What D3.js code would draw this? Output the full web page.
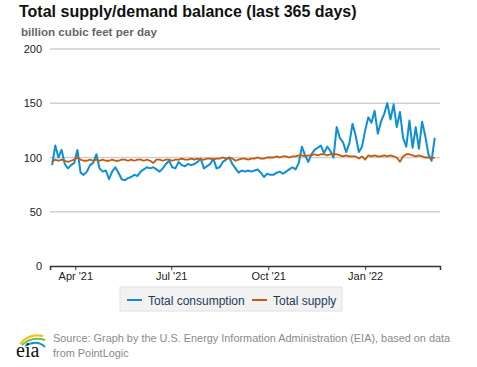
<!DOCTYPE html>
<html>
<head>
<meta charset="utf-8">
<script src="https://cdn.jsdelivr.net/npm/d3@7"></script>
<style>
  body { margin: 0; background: #fff; }
  svg { display: block; font-family: "Liberation Sans", Arial, sans-serif; }
</style>
</head>
<body>
<div id="container"></div>
<script>
// data: one sample every 3 days, starting 10 Mar 2021
const startDate = new Date(2021, 2, 10);
const stepDays = 3;

const consumption = [
  93, 111, 100, 107, 94, 90, 93, 95, 107, 86,
  84, 87, 93, 95, 103, 90, 87, 88, 80, 87,
  91, 86, 80, 79, 81, 82, 84, 83, 87, 89,
  91, 90, 91, 89, 87, 90, 94, 97, 91, 90,
  96, 93, 92, 94, 93, 94, 96, 99, 90, 92,
  94, 99, 90, 91, 96, 98, 100, 94, 90, 86,
  88, 87, 88, 87, 88, 89, 86, 82, 85, 84,
  84, 86, 87, 85, 87, 89, 91, 89, 95, 110,
  102, 96, 103, 107, 109, 111, 104, 110, 106, 100,
  128, 118, 114, 105, 113, 131, 120, 105, 110, 125,
  137, 132, 143, 122, 133, 140, 150, 135, 149, 128,
  142, 118, 110, 134, 109, 128, 108, 133, 120, 103,
  97, 118
];

const supply = [
  96, 98, 97, 98, 97, 96, 97, 98, 100, 98,
  97, 97, 98, 97, 98, 97, 98, 97, 97, 98,
  97, 97, 98, 98, 97, 98, 97, 98, 98, 97,
  98, 97, 95, 98, 98, 97, 98, 98, 97, 98,
  98, 99, 98, 98, 99, 98, 99, 98, 98, 99,
  99, 98, 99, 99, 100, 99, 100, 99, 97, 98,
  99, 99, 98, 99, 99, 100, 99, 99, 100, 100,
  100, 101, 100, 101, 101, 100, 101, 101, 102, 102,
  101, 102, 102, 103, 102, 103, 103, 102, 103, 103,
  103, 102, 101, 102, 101, 101, 101, 99, 101, 98,
  102, 101, 102, 101, 101, 102, 101, 102, 101, 100,
  96, 101, 103, 103, 102, 101, 102, 101, 100, 100,
  99, 100
];

const yTicks = [0, 50, 100, 150, 200];
const xTicks = [new Date(2021, 3, 1), new Date(2021, 6, 1), new Date(2021, 9, 1), new Date(2022, 0, 1)];
const seriesNames = ['Total consumption', 'Total supply'];
const seriesColors = ['#0b8fd6', '#c25a10'];

const W = 477, H = 367;
const margin = { left: 50, right: 37, top: 49, bottom: 101 };

const svg = d3.select('#container').append('svg')
  .attr('width', W).attr('height', H);

svg.append('rect').attr('width', W).attr('height', H).attr('fill', '#fff');

// titles
svg.append('text')
  .attr('x', 19).attr('y', 17)
  .attr('font-size', 16).attr('font-weight', 'bold').attr('fill', '#111')
  .text('Total supply/demand balance (last 365 days)');

svg.append('text')
  .attr('x', 21).attr('y', 36)
  .attr('font-size', 11.6).attr('font-weight', 'bold').attr('fill', '#666')
  .text('billion cubic feet per day');

const x = d3.scaleTime()
  .domain([new Date(2021, 2, 8), new Date(2022, 2, 13)])
  .range([margin.left, W - margin.right]);

const y = d3.scaleLinear()
  .domain([0, 200])
  .range([H - margin.bottom, margin.top]);

// gridlines
svg.append('g')
  .selectAll('line')
  .data(yTicks.filter(d => d > 0))
  .enter()
  .append('line')
  .attr('x1', margin.left).attr('x2', W - margin.right)
  .attr('y1', d => y(d)).attr('y2', d => y(d))
  .attr('stroke', '#cfcfcf').attr('stroke-width', 1.5);

// y labels
const yAxis = svg.append('g')
  .attr('transform', `translate(${margin.left - 8},0)`)
  .call(d3.axisLeft(y).tickValues(yTicks).tickSize(0).tickPadding(0));
yAxis.select('.domain').remove();
yAxis.selectAll('text').attr('font-size', 11).attr('fill', '#222').attr('font-family', null);

// x axis
const xAxis = svg.append('g')
  .attr('transform', `translate(0,${y(0)})`)
  .call(d3.axisBottom(x).tickValues(xTicks).tickSize(4).tickPadding(2).tickFormat(d3.timeFormat("%b '%y")));
xAxis.select('.domain').attr('stroke', '#333').attr('stroke-width', 1.5);
xAxis.selectAll('.tick line').attr('stroke', '#333');
xAxis.selectAll('text').attr('font-size', 11).attr('fill', '#222').attr('font-family', null);

const dateAt = i => d3.timeDay.offset(startDate, i * stepDays);

const line = d3.line()
  .x((d, i) => x(dateAt(i)))
  .y(d => y(d));

svg.append('path')
  .datum(consumption)
  .attr('fill', 'none')
  .attr('stroke', seriesColors[0])
  .attr('stroke-width', 2)
  .attr('stroke-linejoin', 'round')
  .attr('d', line);

svg.append('path')
  .datum(supply)
  .attr('fill', 'none')
  .attr('stroke', seriesColors[1])
  .attr('stroke-width', 1.8)
  .attr('stroke-linejoin', 'round')
  .attr('d', line);

// legend
const legend = svg.append('g');
legend.append('rect')
  .attr('x', 120).attr('y', 287).attr('width', 222).attr('height', 24)
  .attr('fill', '#f2f2f2').attr('stroke', '#e0e0e0');

const legendX = [127, 252];
const item = legend.selectAll('g.item')
  .data(seriesNames)
  .enter()
  .append('g')
  .attr('class', 'item')
  .attr('transform', (d, i) => `translate(${legendX[i]},301)`);

item.append('line')
  .attr('x1', 0).attr('x2', 15)
  .attr('y1', -1).attr('y2', -1)
  .attr('stroke', (d, i) => seriesColors[i])
  .attr('stroke-width', 2);

item.append('text')
  .attr('x', 21).attr('y', 3.5)
  .attr('font-size', 12).attr('fill', '#1d3b5c')
  .text(d => d);

// source
const src = svg.append('text')
  .attr('font-size', 10.9).attr('fill', '#8a8a8a');
src.append('tspan').attr('x', 53).attr('y', 342)
  .text('Source: Graph by the U.S. Energy Information Administration (EIA), based on data');
src.append('tspan').attr('x', 53).attr('y', 357)
  .text('from PointLogic');

// eia logo
const logo = svg.append('g').attr('transform', 'translate(15,330)');
logo.append('path').attr('d', 'M5,14 Q14,3 28,6').attr('fill', 'none').attr('stroke', '#f2c21b').attr('stroke-width', 2.2);
logo.append('path').attr('d', 'M7,15 Q17,6 30,10').attr('fill', 'none').attr('stroke', '#6fbf44').attr('stroke-width', 2);
logo.append('path').attr('d', 'M10,16 Q22,9 30,17').attr('fill', 'none').attr('stroke', '#1790d0').attr('stroke-width', 1.8);
logo.append('text')
  .attr('x', 1).attr('y', 27)
  .attr('font-family', '"Liberation Serif", "DejaVu Serif", serif')
  .attr('font-size', 20).attr('fill', '#111')
  .text('eia');
</script>
</body>
</html>
